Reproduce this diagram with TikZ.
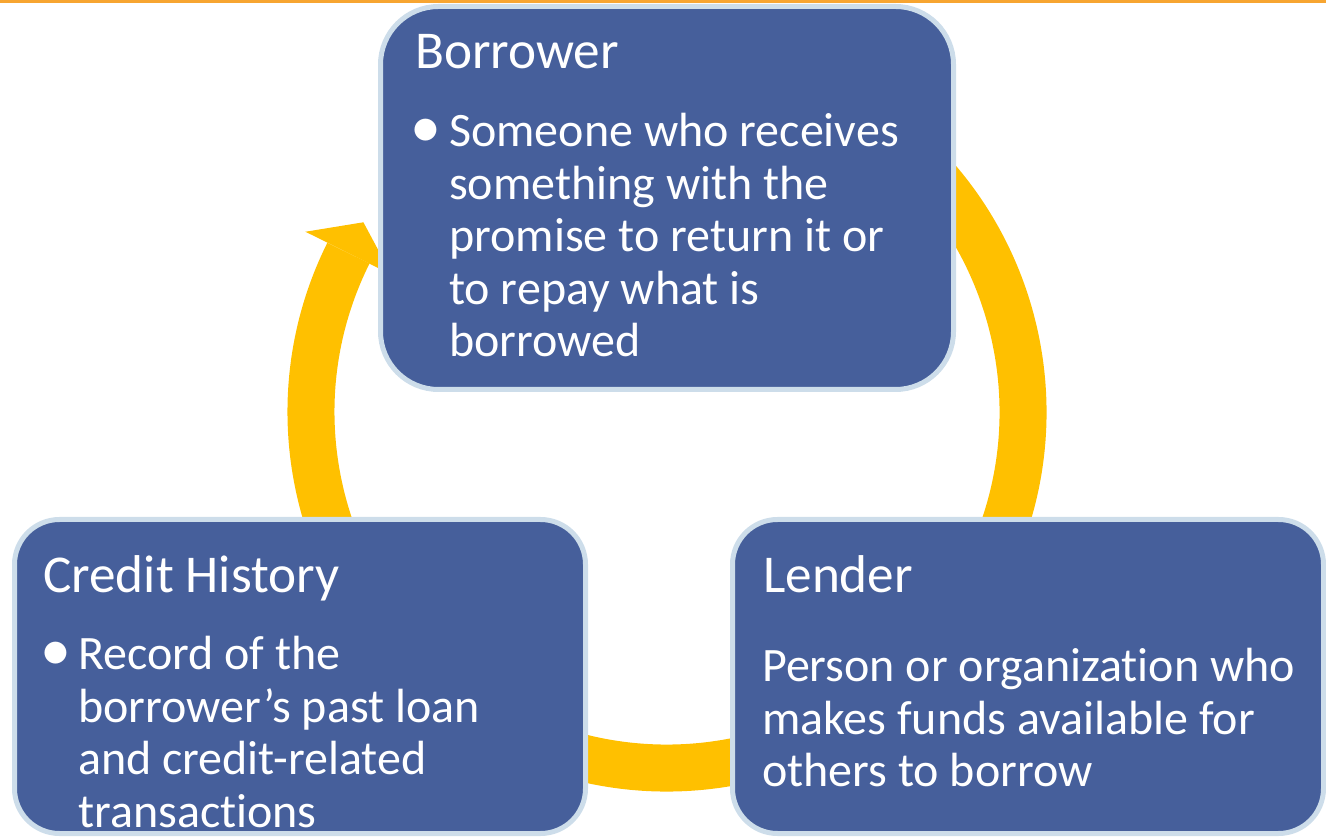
\documentclass[tikz,border=0pt]{standalone}
\usepackage{fontspec}
\setmainfont{Carlito}[Ligatures=NoCommon]
\usepackage{tikz}
\definecolor{boxblue}{HTML}{465F9B}
\definecolor{boxrim}{HTML}{CDDDEA}
\definecolor{ringyellow}{HTML}{FFC000}
\definecolor{topline}{HTML}{F7A531}
\newcommand{\headfont}{\fontsize{53.2}{60}\selectfont}
\newcommand{\bodyfont}{\fontsize{48}{52.5}\selectfont}
\newcommand{\dotfont}{\fontsize{62}{62}\selectfont}
\newcommand{\lines}[1]{\parbox[t]{580pt}{\raggedright #1}}

\begin{document}
\begin{tikzpicture}[x=1pt,y=1pt,
  card/.style={draw=boxrim,line width=5pt,fill=boxblue,inner sep=0pt,outer sep=0pt},
  head/.style={anchor=base west,inner sep=0pt,text=white,font=\headfont},
  body/.style={anchor=base west,inner sep=0pt,text=white,font=\bodyfont},
  dot/.style={anchor=center,inner sep=0pt,text=white,font=\dotfont}]
  \clip (0,0) rectangle (1326,836);
  \fill[topline] (0,833) rectangle (1326,836);
  \coordinate (hub) at (667,424);
  \draw[ringyellow,line width=47pt] ([shift={(60:356)}]hub) arc[start angle=60,end angle=-206.5,radius=356];
  \fill[ringyellow,shift={(hub)}] (153.5:404) -- (148:358) -- (153.5:308) -- cycle;
  \node[card,rounded corners=58pt,minimum width=573pt,minimum height=383pt] (borrower) at (667,638) {};
  \node[card,rounded corners=45pt,minimum width=571pt,minimum height=314pt] (history) at (300,159.5) {};
  \node[card,rounded corners=45pt,minimum width=591pt,minimum height=314pt] (lender) at (1028,159.5) {};
  \node[head] (borrowerhead) at (415,767) {Borrower};
  \node[dot] (borrowerdot) at (425.5,703) {•};
  \node[body] (borrowertext) at (449,689) {\lines{Someone who receives\\something with the\\promise to return it or\\to repay what is\\borrowed}};
  \node[head] (historyhead) at (43,243) {Credit History};
  \node[dot] (historydot) at (55.5,179.5) {•};
  \node[body] (historytext) at (78,166) {\lines{Record of the\\borrower’s past loan\\and credit-related\\transactions}};
  \node[head] (lenderhead) at (763,243) {Lender};
  \node[body] (lendertext) at (762,154) {\lines{Person or organization who\\makes funds available for\\others to borrow}};
\end{tikzpicture}
\end{document}
